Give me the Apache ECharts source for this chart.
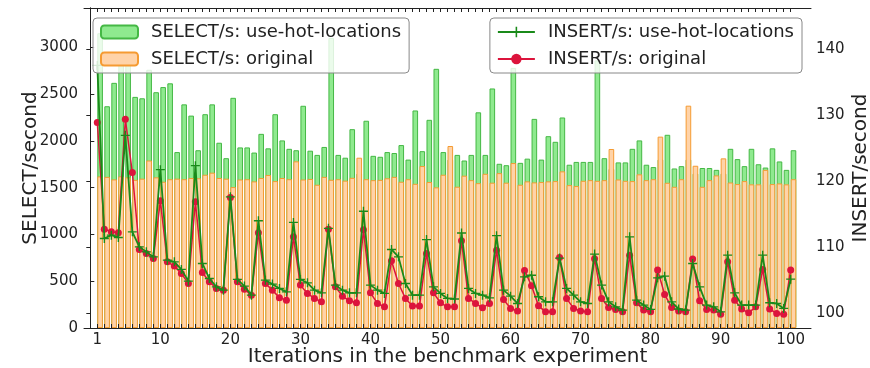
<!DOCTYPE html>
<html>
<head>
<meta charset="utf-8">
<script src="https://cdn.jsdelivr.net/npm/echarts@6.0.0/dist/echarts.min.js"></script>
<style>
  html, body { margin: 0; padding: 0; background: #fff; }
  #chart { width: 870px; height: 368px; }
</style>
</head>
<body>
<div id="chart"></div>
<script>
// Benchmark iterations 1..100
const iterations = Array.from({ length: 100 }, (_, k) => k + 1);

// SELECT throughput (left axis)
const selectHot = [
  3150, 2370, 2620, 2820, 2830, 2470, 2455, 2760, 2520, 2575,
  2615, 1880, 2390, 2270, 1900, 2285, 2390, 1980, 1815, 2460,
  1930, 1930, 1875, 2075, 1920, 2285, 2005, 1915, 1900, 2375,
  1895, 1850, 1935, 3100, 1850, 1820, 2125, 1650, 2215, 1840,
  1830, 1880, 1870, 1955, 1800, 2325, 1890, 2225, 2770, 1880,
  1800, 1850, 1790, 1850, 2305, 1850, 2560, 1755, 1740, 2780,
  1765, 1810, 2235, 1800, 2050, 1990, 2250, 1745, 1775, 1775,
  1775, 2860, 1815, 1700, 1770, 1770, 1915, 2005, 1745, 1720,
  1800, 2065, 1705, 1730, 1800, 1650, 1710, 1710, 1690, 1650,
  1915, 1805, 1730, 1915, 1750, 1715, 1920, 1780, 1690, 1900
];
const selectOrig = [
  1620, 1615, 1588, 1620, 1610, 1583, 1596, 1790, 1610, 1563,
  1590, 1596, 1590, 1603, 1600, 1638, 1660, 1603, 1596, 1506,
  1587, 1590, 1567, 1603, 1635, 1570, 1603, 1590, 1781, 1587,
  1593, 1531, 1615, 1584, 1590, 1575, 1605, 1820, 1590, 1580,
  1583, 1600, 1615, 1563, 1590, 1541, 1731, 1560, 1503, 1638,
  1945, 1510, 1628, 1580, 1548, 1648, 1553, 1655, 1553, 1763,
  1531, 1567, 1556, 1560, 1567, 1570, 1674, 1527, 1517, 1573,
  1580, 1573, 1580, 1913, 1587, 1573, 1570, 1642, 1580, 1590,
  2045, 1552, 1509, 1590, 2376, 1734, 1509, 1580, 1631, 1813,
  1555, 1538, 1570, 1535, 1535, 1690, 1538, 1545, 1535, 1590
];

// INSERT throughput (right axis)
const insertHot = [
  137.5, 111.27, 111.77, 111.42, 126.9, 112.27, 110.0, 109.24, 108.48, 121.7,
  107.98, 107.73, 106.58, 104.8, 122.3, 107.48, 105.2, 103.94, 103.44, 117.58,
  105.06, 104.05, 102.68, 113.95, 104.95, 104.35, 103.7, 103.18, 113.7, 105.06,
  104.55, 103.44, 103.03, 112.8, 104.2, 103.44, 103.03, 103.03, 115.4, 104.2,
  103.44, 102.94, 109.6, 108.48, 104.45, 102.68, 102.68, 111.1, 103.94, 102.94,
  102.18, 102.1, 112.1, 103.7, 102.94, 102.68, 102.27, 111.7, 103.44, 102.53,
  101.42, 105.45, 105.7, 102.43, 101.67, 101.67, 108.3, 103.7, 102.68, 101.67,
  101.42, 108.9, 104.2, 101.67, 100.91, 100.41, 111.52, 101.92, 101.17, 100.52,
  105.3, 105.56, 101.67, 100.58, 100.41, 107.48, 103.94, 101.17, 100.91, 100.15,
  108.74, 103.03, 101.17, 101.17, 101.17, 108.74, 101.52, 101.42, 100.67, 105.1
];
const insertOrig = [
  128.85, 112.68, 112.27, 112.12, 129.35, 121.27, 109.6, 109.0, 108.24, 116.97,
  107.73, 107.08, 105.97, 104.45, 116.82, 106.12, 104.7, 103.7, 103.44, 117.48,
  104.7, 103.59, 102.68, 112.12, 104.45, 103.44, 102.27, 101.92, 111.52, 104.2,
  102.94, 102.18, 101.67, 112.65, 103.94, 102.53, 101.82, 101.52, 112.6, 103.03,
  101.42, 100.91, 107.9, 104.45, 102.18, 101.02, 101.02, 109.0, 103.03, 101.52,
  100.91, 100.91, 110.91, 102.18, 101.42, 100.76, 101.42, 109.5, 102.03, 100.67,
  100.26, 106.4, 104.1, 101.06, 100.15, 100.15, 108.4, 102.18, 100.67, 100.26,
  100.15, 108.2, 102.18, 100.82, 100.52, 100.15, 108.74, 101.52, 100.41, 100.15,
  106.5, 102.79, 100.82, 100.26, 100.15, 108.14, 101.82, 100.52, 100.41, 99.8,
  107.73, 101.92, 100.58, 100.0, 100.91, 106.58, 100.58, 99.9, 99.8, 106.5
];

// Tick labels
const xTickLabels = [1, 10, 20, 30, 40, 50, 60, 70, 80, 90, 100];
const selectTicks = [0, 500, 1000, 1500, 2000, 2500, 3000];
const insertTicks = [100, 110, 120, 130, 140];

const FONT = 'DejaVu Sans';
const INK = '#222';
const BAR_SHIFT = 0.4;      // bars sit to the right of each tick (edge aligned)
const PLUS = 'path://M4.25,0H5.75V10H4.25Z M0,4.25H10V5.75H0Z';
const plain = (v) => String(v);

const barPairs = (vals) => iterations.map((it, k) => [it + BAR_SHIFT, vals[k]]);
const linePairs = (vals) => iterations.map((it, k) => [it, vals[k]]);

const xBase = {
  type: 'value', min: -0.9, max: 102.9, z: 6,
  splitLine: { show: false },
  axisLine: { show: true, onZero: false, lineStyle: { color: INK, width: 1 } },
  axisTick: { show: true, inside: true, length: 4, customValues: iterations, lineStyle: { color: INK } }
};

const legendBase = {
  orient: 'vertical', top: 18, z: 10,
  backgroundColor: 'rgba(255,255,255,0.82)',
  borderColor: '#888', borderWidth: 1, borderRadius: 4,
  padding: [5, 8, 5, 7],
  itemWidth: 37, itemHeight: 13, itemGap: 9,
  textStyle: { fontFamily: FONT, fontSize: 18, color: INK, lineHeight: 18, padding: [0, 0, 0, 8] }
};

const chart = echarts.init(document.getElementById('chart'), null, { renderer: 'canvas' });
chart.setOption({
  animation: false,
  textStyle: { fontFamily: FONT },
  grid: { left: 84, right: 59, top: 8, bottom: 40, outerBoundsMode: 'none', containLabel: false },
  legend: [
    Object.assign({}, legendBase, {
      left: 93,
      data: ['SELECT/s: use-hot-locations', 'SELECT/s: original']
    }),
    Object.assign({}, legendBase, {
      right: 68,
      data: ['INSERT/s: use-hot-locations', 'INSERT/s: original']
    })
  ],
  xAxis: [
    Object.assign({}, xBase, {
      position: 'bottom',
      axisLabel: { customValues: xTickLabels, formatter: plain, fontFamily: FONT, fontSize: 15, color: INK, margin: 5 },
      name: 'Iterations in the benchmark experiment',
      nameLocation: 'middle', nameGap: 19, nameMoveOverlap: false,
      nameTextStyle: { fontFamily: FONT, fontSize: 20, color: INK }
    }),
    Object.assign({}, xBase, {
      position: 'top',
      axisLabel: { show: false }
    })
  ],
  yAxis: [
    {
      type: 'value', min: 0, max: 3420, position: 'left', z: 6,
      splitLine: { show: false },
      axisLine: { show: true, lineStyle: { color: INK } },
      axisTick: { show: true, inside: true, length: 4, customValues: selectTicks, lineStyle: { color: INK } },
      axisLabel: { customValues: selectTicks, formatter: plain, fontFamily: FONT, fontSize: 15, color: INK, margin: 6 },
      name: 'SELECT/second', nameLocation: 'middle', nameGap: 43, nameRotate: 90, nameMoveOverlap: false,
      nameTextStyle: { fontFamily: FONT, fontSize: 20, color: INK }
    },
    {
      type: 'value', min: 97.7, max: 146.2, position: 'right', z: 6,
      splitLine: { show: false },
      axisLine: { show: true, lineStyle: { color: INK } },
      axisTick: { show: true, inside: true, length: 4, customValues: insertTicks, lineStyle: { color: INK } },
      axisLabel: { customValues: insertTicks, formatter: plain, fontFamily: FONT, fontSize: 15, color: INK, margin: 5 },
      name: 'INSERT/second', nameLocation: 'middle', nameGap: 40, nameRotate: 90, nameMoveOverlap: false,
      nameTextStyle: { fontFamily: FONT, fontSize: 20, color: INK }
    }
  ],
  series: [
    {
      name: 'SELECT/s: use-hot-locations', type: 'bar',
      xAxisIndex: 0, yAxisIndex: 0,
      barWidth: 5.6, barGap: '-100%',
      itemStyle: { color: '#8FEA8F', borderColor: '#45B845', borderWidth: 1 },
      data: barPairs(selectHot), z: 1
    },
    {
      name: 'SELECT/s: original', type: 'bar',
      xAxisIndex: 0, yAxisIndex: 0,
      barWidth: 5.6, barGap: '-100%',
      itemStyle: { color: '#FFD3A8', borderColor: '#F59B32', borderWidth: 1 },
      data: barPairs(selectOrig), z: 1
    },
    {
      name: 'INSERT/s: original', type: 'line',
      xAxisIndex: 0, yAxisIndex: 1,
      symbol: 'circle', symbolSize: 7, showAllSymbol: true,
      lineStyle: { color: '#DC143C', width: 1.5 },
      itemStyle: { color: '#DC143C', borderWidth: 0 },
      data: linePairs(insertOrig), z: 3
    },
    {
      name: 'INSERT/s: use-hot-locations', type: 'line',
      xAxisIndex: 0, yAxisIndex: 1,
      symbol: PLUS, symbolSize: 9, showAllSymbol: true,
      lineStyle: { color: '#1A8A1A', width: 1.8 },
      itemStyle: { color: '#1A8A1A', borderWidth: 0 },
      data: linePairs(insertHot), z: 4
    }
  ]
});
</script>
</body>
</html>
